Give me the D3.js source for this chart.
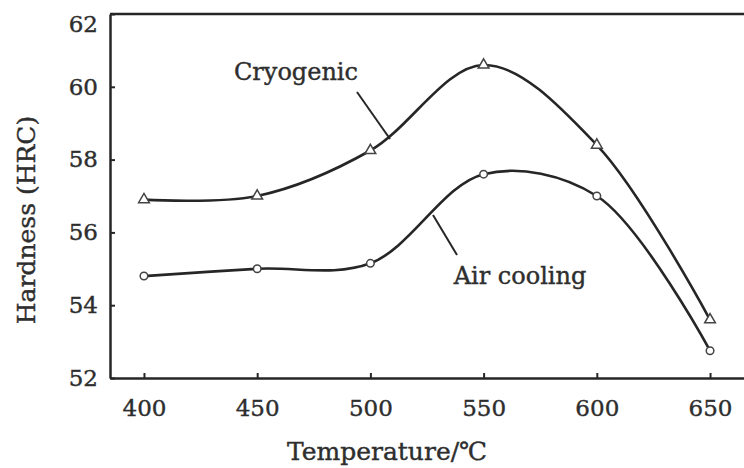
<!DOCTYPE html>
<html>
<head>
<meta charset="utf-8">
<script src="https://cdn.jsdelivr.net/npm/d3@7"></script>
<style>
    body { margin: 0; background: #fff; }
    svg { display: block; }
</style>
</head>
<body>
<div id="graphContainer"></div>
<script>
"use strict";

// Data
const temperatures = [400, 450, 500, 550, 600, 650];
const cryogenicHardness = [56.9, 57.0, 58.25, 60.6, 58.4, 53.6];
const airCoolingHardness = [54.8, 55.0, 55.15, 57.6, 57.0, 52.75];
const xTickValues = [400, 450, 500, 550, 600, 650];
const yTickValues = [52, 54, 56, 58, 60, 62];

const graphInfo = {
    width: 744,
    height: 468,
    marginTop: 14,
    marginBottom: 90,
    marginLeft: 110,
    marginRight: 0,
    ink: "#262626",
    textInk: "#2e2e2e",
    font: "'DejaVu Serif', 'Liberation Serif', serif"
};

const svg = d3.select("#graphContainer").append("svg")
    .attr("width", graphInfo.width)
    .attr("height", graphInfo.height);

// Define the scale for the x-axis
const xScale = d3.scaleLinear()
    .domain([385, 665])
    .range([graphInfo.marginLeft, graphInfo.width - graphInfo.marginRight]);

// Define the scale for the y-axis
const yScale = d3.scaleLinear()
    .domain([52, 62])
    .range([graphInfo.height - graphInfo.marginBottom, graphInfo.marginTop]);

// Scanned text looks a bit heavier than a plain serif
function styleText(sel, size) {
    sel.attr("font-family", graphInfo.font)
        .attr("font-size", size)
        .attr("fill", graphInfo.textInk)
        .attr("stroke", graphInfo.textInk)
        .attr("stroke-width", 0.4);
}

// Put the x-axis on the graph (ticks point inward)
svg.append("g")
    .attr("transform", `translate(0,${yScale(52)})`)
    .call(d3.axisBottom(xScale).tickValues(xTickValues).tickSizeInner(-5).tickSizeOuter(0).tickPadding(22))
    .call(g => g.select(".domain").attr("stroke", graphInfo.ink).attr("stroke-width", 2.5))
    .call(g => g.selectAll(".tick line").attr("stroke", graphInfo.ink).attr("stroke-width", 2))
    .call(g => styleText(g.selectAll(".tick text"), 23));

// Put the y-axis on the graph
svg.append("g")
    .attr("transform", `translate(${xScale(385)},0)`)
    .call(d3.axisLeft(yScale).tickValues(yTickValues).tickSizeInner(-5).tickSizeOuter(0).tickPadding(12))
    .call(g => g.select(".domain").attr("stroke", graphInfo.ink).attr("stroke-width", 2.5))
    .call(g => g.selectAll(".tick line").attr("stroke", graphInfo.ink).attr("stroke-width", 2))
    .call(g => styleText(g.selectAll(".tick text"), 23));

// Nudge the top label down a little, as in the scan
svg.selectAll(".tick text").filter(d => d === 62).attr("dy", "0.75em");

// Top frame line
svg.append("line")
    .attr("x1", xScale(385))
    .attr("x2", xScale(665))
    .attr("y1", yScale(62))
    .attr("y2", yScale(62))
    .attr("stroke", graphInfo.ink)
    .attr("stroke-width", 2.5);

// Axis titles
svg.append("text")
    .attr("x", 387)
    .attr("y", 460)
    .attr("text-anchor", "middle")
    .call(styleText, 25)
    .text("Temperature/℃");

svg.append("text")
    .attr("transform", "translate(35,220) rotate(-90)")
    .attr("text-anchor", "middle")
    .call(styleText, 25)
    .text("Hardness (HRC)");

// Smooth curve through the measured points
const line = d3.line()
    .curve(d3.curveCatmullRom)
    .x(d => xScale(d.x))
    .y(d => yScale(d.y));

const series = [
    { name: "Cryogenic", marker: "triangle", values: cryogenicHardness },
    { name: "Air cooling", marker: "circle", values: airCoolingHardness }
];

series.forEach(s => {
    const data = temperatures.map((t, i) => ({ x: t, y: s.values[i] }));

    svg.append("path")
        .datum(data)
        .attr("fill", "none")
        .attr("stroke", graphInfo.ink)
        .attr("stroke-width", 2.6)
        .attr("d", line);

    const symbol = d3.symbol()
        .type(s.marker === "triangle" ? d3.symbolTriangle : d3.symbolCircle)
        .size(s.marker === "triangle" ? 50 : 45);

    svg.append("g")
        .attr("fill", "white")
        .attr("stroke", "#444")
        .attr("stroke-width", 1.5)
        .selectAll("path")
        .data(data)
        .join("path")
        .attr("transform", d => `translate(${xScale(d.x)},${yScale(d.y)})`)
        .attr("d", symbol);
});

// Series labels with leader lines
const labels = [
    { text: "Cryogenic", x: 296, y: 80, lx1: 357, ly1: 92, lx2: 390, ly2: 139 },
    { text: "Air cooling", x: 520, y: 284, lx1: 433, ly1: 215, lx2: 457, ly2: 255 }
];

labels.forEach(l => {
    svg.append("line")
        .attr("x1", l.lx1).attr("y1", l.ly1)
        .attr("x2", l.lx2).attr("y2", l.ly2)
        .attr("stroke", graphInfo.ink)
        .attr("stroke-width", 2);

    svg.append("text")
        .attr("x", l.x)
        .attr("y", l.y)
        .attr("text-anchor", "middle")
        .call(styleText, 24)
        .text(l.text);
});
</script>
</body>
</html>
